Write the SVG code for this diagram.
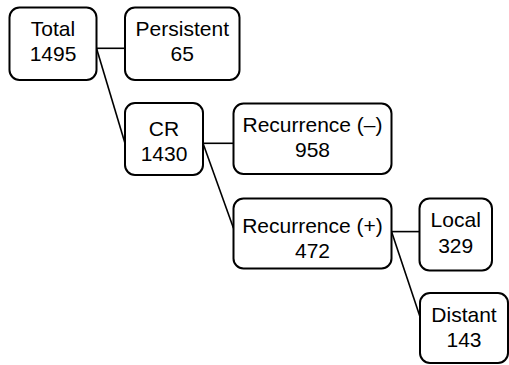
<svg xmlns="http://www.w3.org/2000/svg" width="509" height="365" viewBox="0 0 509 365">
<style>
.box{fill:#fff;stroke:#000;stroke-width:2}
.lbl{font-family:"Liberation Sans",Arial,sans-serif;font-size:21px;fill:#000;text-anchor:middle}
.conn{stroke:#000;stroke-width:1.6;fill:none}
</style>
<rect width="509" height="365" fill="#fff"/>
<g id="connectors">
<path class="conn" d="M96.5 48.3 H125"/>
<path class="conn" d="M96.5 48.3 L125 143.3"/>
<path class="conn" d="M203 143.3 H233.5"/>
<path class="conn" d="M203 143.3 L233.5 228.3"/>
<path class="conn" d="M391.5 231.6 H419.5"/>
<path class="conn" d="M391.5 231.6 L420 316.7"/>
</g>
<g id="total">
<rect class="box" x="9.5" y="7.5" width="87" height="72.5" rx="10"/>
<text class="lbl" x="53" y="36">Total</text>
<text class="lbl" x="53" y="61">1495</text>
</g>
<g id="persistent">
<rect class="box" x="125" y="7.5" width="114.5" height="72.5" rx="10"/>
<text class="lbl" x="182.3" y="36">Persistent</text>
<text class="lbl" x="182.3" y="61">65</text>
</g>
<g id="cr">
<rect class="box" x="125" y="103" width="78" height="72" rx="10"/>
<text class="lbl" x="164" y="136">CR</text>
<text class="lbl" x="164" y="161">1430</text>
</g>
<g id="recurrence-neg">
<rect class="box" x="233.5" y="103.5" width="158" height="70.5" rx="10"/>
<text class="lbl" x="312.5" y="131.7">Recurrence (–)</text>
<text class="lbl" x="312.5" y="156.7">958</text>
</g>
<g id="recurrence-pos">
<rect class="box" x="233.5" y="198.5" width="158" height="70" rx="10"/>
<text class="lbl" x="312.5" y="233">Recurrence (+)</text>
<text class="lbl" x="312.5" y="258">472</text>
</g>
<g id="local">
<rect class="box" x="419.5" y="198.5" width="72.5" height="72" rx="10"/>
<text class="lbl" x="455.7" y="227.3">Local</text>
<text class="lbl" x="455.7" y="253.3">329</text>
</g>
<g id="distant">
<rect class="box" x="420" y="293" width="88" height="70" rx="10"/>
<text class="lbl" x="464" y="321.7">Distant</text>
<text class="lbl" x="464" y="346.7">143</text>
</g>
</svg>
